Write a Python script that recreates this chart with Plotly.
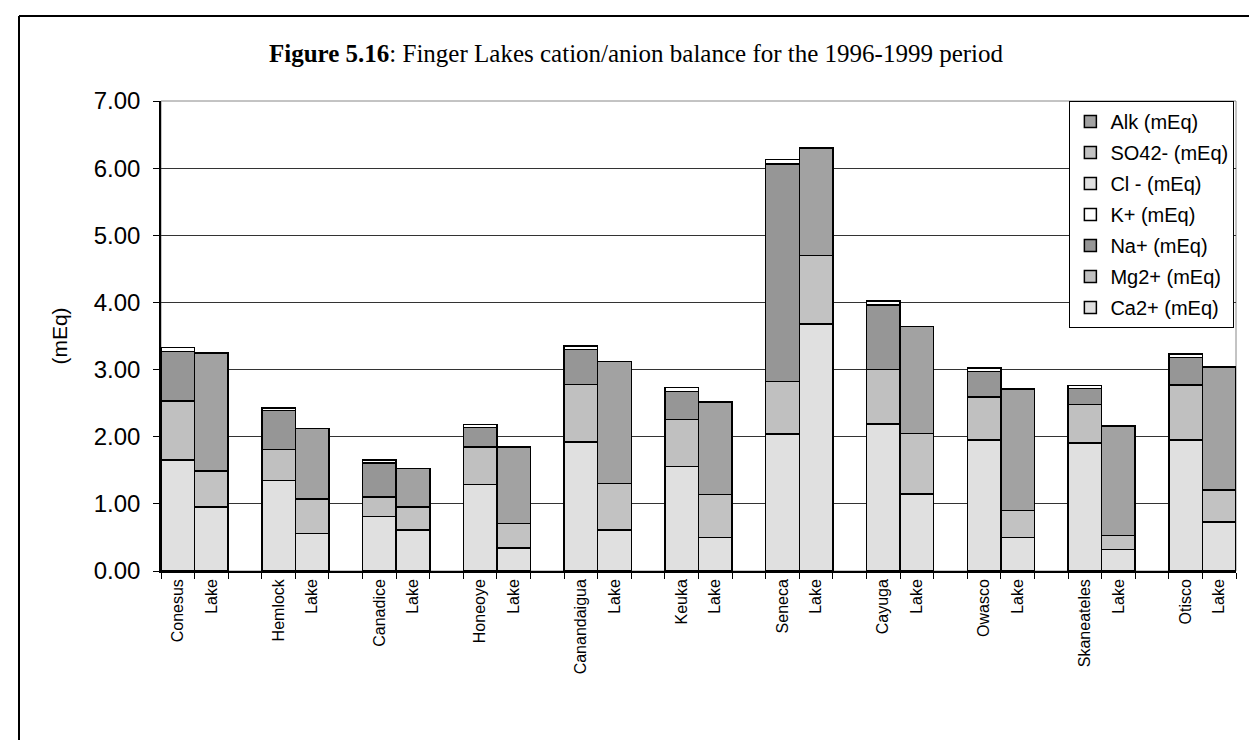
import plotly.graph_objects as go

# lakes (each lake gets a cation bar and an anion "Lake" bar)
lakes = ["Conesus", "Hemlock", "Canadice", "Honeoye", "Canandaigua", "Keuka",
         "Seneca", "Cayuga", "Owasco", "Skaneateles", "Otisco"]

# cations (mEq)
ca = [1.65, 1.35, 0.81, 1.29, 1.92, 1.56, 2.04, 2.19, 1.95, 1.91, 1.95]
mg = [0.88, 0.46, 0.29, 0.56, 0.86, 0.70, 0.78, 0.81, 0.64, 0.57, 0.82]
na = [0.74, 0.58, 0.51, 0.29, 0.52, 0.41, 3.24, 0.96, 0.38, 0.24, 0.41]
k = [0.06, 0.04, 0.04, 0.04, 0.05, 0.06, 0.07, 0.06, 0.05, 0.04, 0.05]

# anions (mEq)
cl = [0.95, 0.56, 0.61, 0.34, 0.61, 0.50, 3.68, 1.15, 0.50, 0.32, 0.73]
so4 = [0.54, 0.51, 0.34, 0.37, 0.69, 0.64, 1.02, 0.90, 0.40, 0.21, 0.48]
alk = [1.76, 1.05, 0.58, 1.14, 1.82, 1.38, 1.60, 1.59, 1.81, 1.63, 1.83]

# slot positions: lake, Lake, blank, lake, Lake, blank ...
cat_x = [3 * i for i in range(len(lakes))]
an_x = [3 * i + 1 for i in range(len(lakes))]
tick_vals = sorted(cat_x + an_x)
tick_text = []
for name in lakes:
    tick_text += [name, "Lake"]
bounds = [b - 0.5 for b in range(0, 33)]

series = [
    ("Ca2+ (mEq)", cat_x, ca, "#e0e0e0"),
    ("Mg2+ (mEq)", cat_x, mg, "#c0c0c0"),
    ("Na+ (mEq)", cat_x, na, "#969696"),
    ("K+ (mEq)", cat_x, k, "#ffffff"),
    ("Cl - (mEq)", an_x, cl, "#e0e0e0"),
    ("SO42- (mEq)", an_x, so4, "#c2c2c2"),
    ("Alk (mEq)", an_x, alk, "#a2a2a2"),
]

fig = go.Figure()
for i, (name, xs, ys, col) in enumerate(series):
    # legend lists the top of the stack first
    fig.add_trace(go.Bar(x=xs, y=ys, name=name, width=1, legendgroup=name,
                         legendrank=100 - i,
                         marker=dict(color=col, line=dict(color="black", width=1.5))))

font = "Liberation Sans, Arial, sans-serif"
fig.update_layout(
    width=1257, height=740,
    barmode="stack",
    paper_bgcolor="white", plot_bgcolor="white",
    margin=dict(l=153, r=29, t=93, b=177),
    font=dict(family=font, color="black"),
    title=dict(text="<b>Figure 5.16</b>: Finger Lakes cation/anion balance for the 1996-1999 period",
               font=dict(family="Liberation Serif, Times New Roman, serif", size=25, color="black"),
               x=628 / 1257, xref="container", xanchor="center", y=1 - 45 / 740, yanchor="middle"),
    legend=dict(x=0.845, y=1.0, xanchor="left", yanchor="top",
                traceorder="grouped", tracegroupgap=2,
                bordercolor="black", borderwidth=1, bgcolor="white",
                font=dict(size=20, family=font)),
    showlegend=True,
)

fig.update_xaxes(range=[-0.5, 31.5], tickmode="array", tickvals=tick_vals, ticktext=tick_text,
                 tickangle=-90, ticks="", tickfont=dict(size=16),
                 minor=dict(tickmode="array", tickvals=bounds, ticks="outside", ticklen=6,
                            tickcolor="black", showgrid=False),
                 showline=True, linecolor="black", linewidth=1.5, showgrid=False, zeroline=False)

fig.update_yaxes(range=[0, 7], dtick=1, tickformat=".2f", tickfont=dict(size=24),
                 ticks="outside", ticklen=6, tickcolor="black", ticklabelstandoff=8,
                 showline=True, linecolor="black", linewidth=1.5,
                 showgrid=True, gridcolor="#333333", gridwidth=1, zeroline=False,
                 title=dict(text="(mEq)", font=dict(size=21), standoff=20))

# plot area border (gray) and the page frame on the left and top
fig.add_shape(type="rect", xref="paper", yref="paper", x0=0, y0=0, x1=1, y1=1,
              line=dict(color="#888888", width=1), layer="below")
fig.add_shape(type="line", xref="paper", yref="paper", x0=(11 - 153) / 1075, x1=(11 - 153) / 1075,
              y0=(563 - 8) / 470, y1=(563 - 760) / 470, line=dict(color="black", width=2))
fig.add_shape(type="line", xref="paper", yref="paper", x0=(11 - 153) / 1075, x1=(1270 - 153) / 1075,
              y0=(563 - 8) / 470, y1=(563 - 8) / 470, line=dict(color="black", width=2))

fig.write_html("out.html")
